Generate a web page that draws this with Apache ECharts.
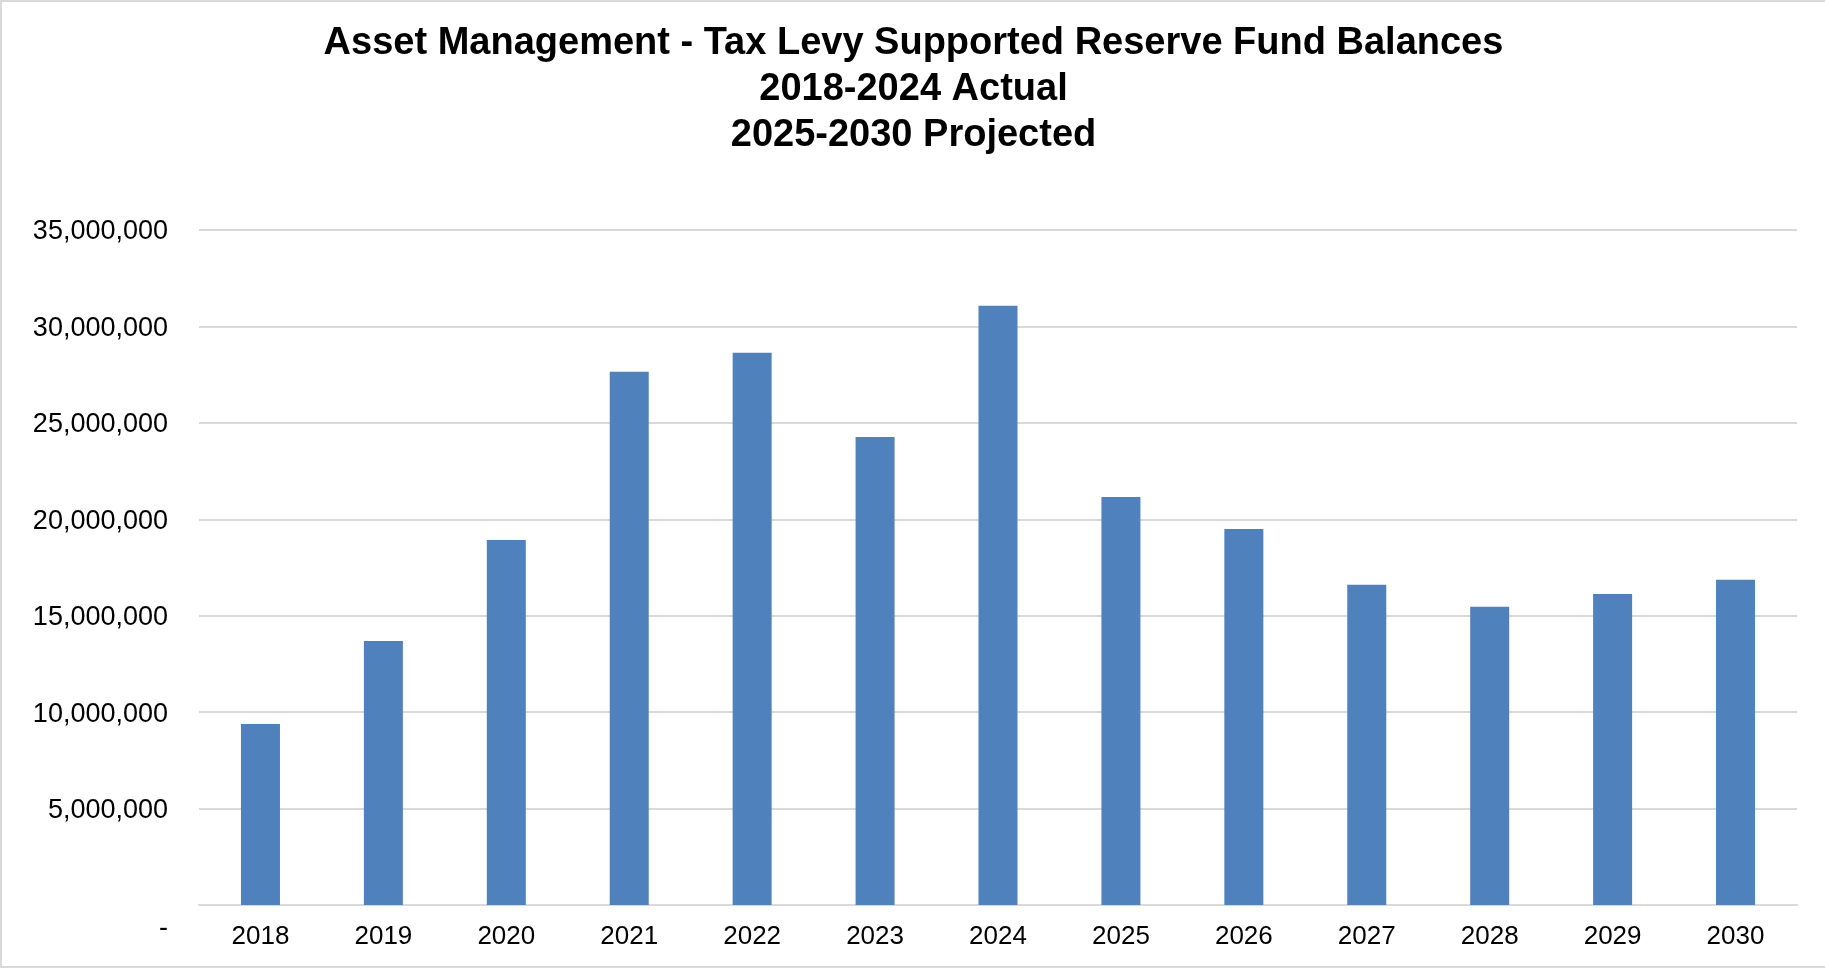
<!DOCTYPE html>
<html>
<head>
<meta charset="utf-8">
<title>Asset Management - Tax Levy Supported Reserve Fund Balances</title>
<script src="https://cdn.jsdelivr.net/npm/echarts@6/dist/echarts.min.js"></script>
<style>
  html, body { margin: 0; padding: 0; background: #ffffff; }
  #frame {
    width: 1825px; height: 968px; box-sizing: border-box;
    border-left: 2px solid #d9d9d9; border-top: 2px solid #d9d9d9; border-bottom: 2px solid #d9d9d9;
  }
  #chart { width: 100%; height: 100%; }
</style>
</head>
<body>
<div id="frame"><div id="chart"></div></div>
<script>
// Fiscal years shown on the category axis
const years = ['2018', '2019', '2020', '2021', '2022', '2023', '2024',
               '2025', '2026', '2027', '2028', '2029', '2030'];

// Year-end reserve fund balances ($); 2018-2024 actual, 2025-2030 projected
const balances = [9390000, 13690000, 18930000, 27650000, 28630000, 24270000, 31070000,
                  21160000, 19500000, 16600000, 15460000, 16130000, 16860000];

// Value axis range and step
const yMin = 0;
const yMax = 35000000;
const yStep = 5000000;

const titleLines = [
  'Asset Management - Tax Levy Supported Reserve Fund Balances',
  '2018-2024 Actual',
  '2025-2030 Projected'
];

const FONT = '"Liberation Sans", Arial, Helvetica, sans-serif';

function formatAmount(v) {
  if (v === 0) return '{zero|-}';
  return v.toLocaleString('en-US');
}

const chart = echarts.init(document.getElementById('chart'), null, { renderer: 'canvas' });

chart.setOption({
  animation: false,
  backgroundColor: '#ffffff',
  title: {
    text: titleLines.join('\n'),
    left: 'center',
    top: 14,
    textStyle: {
      fontFamily: FONT,
      fontSize: 38,
      fontWeight: 'bold',
      lineHeight: 46,
      color: '#000000'
    }
  },
  grid: {
    left: 197,
    right: 28,
    top: 228,
    bottom: 61,
    containLabel: false
  },
  xAxis: {
    type: 'category',
    data: years,
    axisLine: { show: true, lineStyle: { color: '#d9d9d9', width: 2 } },
    axisTick: { show: false },
    axisLabel: {
      fontFamily: FONT,
      fontSize: 26,
      color: '#000000',
      margin: 19
    }
  },
  yAxis: {
    type: 'value',
    min: yMin,
    max: yMax,
    interval: yStep,
    axisLine: { show: false },
    axisTick: { show: false },
    splitLine: { show: true, lineStyle: { color: '#d9d9d9', width: 2 } },
    axisLabel: {
      fontFamily: FONT,
      fontSize: 27,
      color: '#000000',
      margin: 31,
      padding: [4, 0, 0, 0],
      formatter: formatAmount,
      rich: {
        zero: {
          fontFamily: FONT,
          fontSize: 27,
          color: '#000000',
          padding: [44, 0, 0, 0]
        }
      }
    }
  },
  series: [{
    type: 'bar',
    data: balances,
    barWidth: 39,
    itemStyle: { color: '#4F81BD' }
  }]
});
</script>
</body>
</html>
